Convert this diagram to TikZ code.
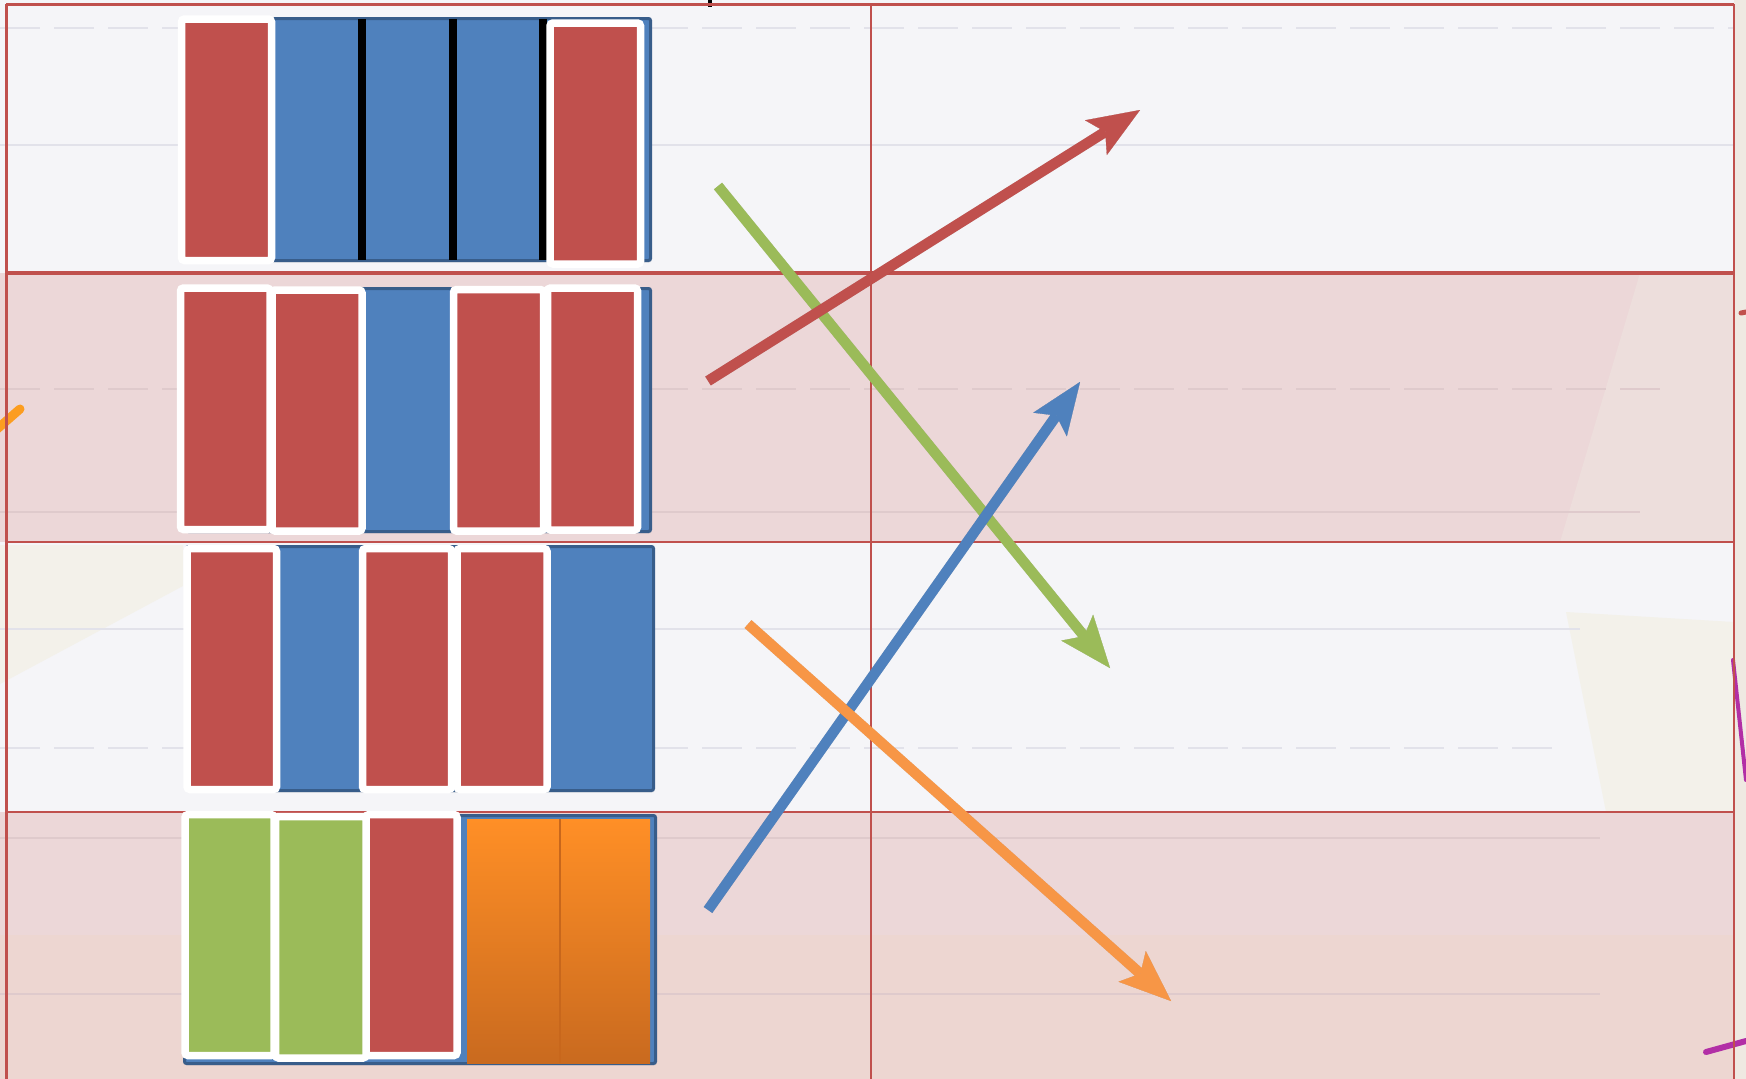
\documentclass[tikz,border=0pt]{standalone}
\usetikzlibrary{arrows.meta,shadows,calc}
\definecolor{rowwhite}{HTML}{F5F5F8}
\definecolor{rowpink}{HTML}{ECD7D8}
\definecolor{rowpeach}{HTML}{EDD6D1}
\definecolor{creambg}{HTML}{EFE9E2}
\definecolor{papercream}{HTML}{F3F1EA}
\definecolor{gridred}{HTML}{C0504D}
\definecolor{barred}{HTML}{C0504D}
\definecolor{barblue}{HTML}{4F81BD}
\definecolor{blueedge}{HTML}{385D8A}
\definecolor{bargreen}{HTML}{9BBB59}
\definecolor{orangetop}{HTML}{FF8F26}
\definecolor{orangebot}{HTML}{C96A1F}
\definecolor{orangediv}{HTML}{C8671C}
\definecolor{arrred}{HTML}{C0504D}
\definecolor{arrgreen}{HTML}{9BBB59}
\definecolor{arrblue}{HTML}{4F81BD}
\definecolor{arrorange}{HTML}{F79646}
\definecolor{noteline}{HTML}{E2E2EA}
\definecolor{notelinepink}{HTML}{DFCACC}
\definecolor{marker}{HTML}{B22FA6}
\begin{document}
\begin{tikzpicture}[x=1pt,y=-1pt,
  framebar/.style={draw=white, line width=7.5pt, rounded corners=3pt, inner sep=0pt,
    drop shadow={opacity=0.18, shadow xshift=1pt, shadow yshift=-2pt}},
  redbar/.style={framebar, fill=barred},
  greenbar/.style={framebar, fill=bargreen},
  bluebox/.style={draw=blueedge, line width=3pt, fill=barblue, rounded corners=2pt, inner sep=0pt,
    drop shadow={opacity=0.15, shadow xshift=1pt, shadow yshift=-2pt}},
  orangebar/.style={top color=orangetop, bottom color=orangebot, draw=none, inner sep=0pt},
  gridline/.style={draw=gridred},
  arrowline/.style={line width=10.5pt, -{Stealth[length=52pt,width=41pt,inset=11pt,line width=0.1pt]}},
  arrowshadow/.style={arrowline, black, opacity=0.15, shift={(2,3)}},
  faint/.style={draw=noteline, line width=1.2pt},
  faintpink/.style={draw=notelinepink, line width=1.2pt},
]
\useasboundingbox (0,0) rectangle (1746,1079);
% background
\fill[creambg] (0,0) rectangle (1746,1079);
\fill[rowwhite] (0,0) rectangle (1734,273);
\fill[rowpink] (0,273) rectangle (1734,542);
\fill[rowwhite] (0,542) rectangle (1734,812);
\fill[rowpink] (0,812) rectangle (1734,1079);
\fill[rowpeach] (0,935) rectangle (1734,1079);
\fill[papercream] (0,545) -- (183,545) -- (183,586) -- (0,684) -- cycle;
\fill[papercream] (1566,612) -- (1734,622) -- (1734,812) -- (1606,812) -- cycle;
\fill[rowpink!60!creambg] (1640,273) -- (1734,273) -- (1734,542) -- (1560,542) -- cycle;
% faint notebook lines
\draw[faint, dash pattern=on 40pt off 14pt] (0,28) -- (1734,28);
\draw[faint] (0,145) -- (1734,145);
\draw[faintpink, dash pattern=on 40pt off 14pt] (0,389) -- (1670,389);
\draw[faintpink] (0,512) -- (1640,512);
\draw[faint] (0,629) -- (1580,629);
\draw[faint, dash pattern=on 40pt off 14pt] (0,748) -- (1560,748);
\draw[faintpink] (0,838) -- (1600,838);
\draw[faintpink] (0,994) -- (1600,994);
% stray marks
\draw[orange!85!yellow, line width=9pt, line cap=round, opacity=0.85] (-4,430) -- (20,409);
\draw[marker, line width=4pt, line cap=round] (1733,660) -- (1746,780);
\draw[marker, line width=6pt, line cap=round] (1706,1052) -- (1746,1041);
\draw[gridred, line width=5pt, line cap=round] (1741,313) -- (1746,312);
\fill[black] (708,0) rectangle (712,7);
% grid
\draw[gridline, line width=3pt] (6,4) -- (1734,4);
\draw[gridline, line width=3pt] (6,4) -- (6,1079);
\draw[gridline, line width=2pt] (1734,4) -- (1734,1079);
\draw[gridline, line width=4pt] (6,273) -- (1734,273);
\draw[gridline, line width=2pt] (6,542) -- (1734,542);
\draw[gridline, line width=2pt] (6,812) -- (1734,812);
\draw[gridline, line width=2pt] (871,4) -- (871,1079);
% row 1
\node[bluebox, minimum width=464pt, minimum height=242pt] (b1) at (418.5,139.5) {};
\fill[black] (358,19) rectangle (366,260);
\fill[black] (449,19) rectangle (457,260);
\fill[black] (539,19) rectangle (547,260);
\node[redbar, minimum width=90pt, minimum height=241.5pt] (r1a) at (226.5,139.75) {};
\node[redbar, minimum width=90.5pt, minimum height=241pt] (r1b) at (595.25,143.5) {};
% row 2
\node[bluebox, minimum width=464pt, minimum height=243pt] (b2) at (418.5,410) {};
\node[redbar, minimum width=89.5pt, minimum height=241.5pt] (r2a) at (225.25,408.75) {};
\node[redbar, minimum width=90pt, minimum height=241pt] (r2b) at (317,410.5) {};
\node[redbar, minimum width=90pt, minimum height=241.5pt] (r2c) at (498.5,410.25) {};
\node[redbar, minimum width=90pt, minimum height=242pt] (r2d) at (592.5,409) {};
% row 3
\node[bluebox, minimum width=467pt, minimum height=244pt] (b3) at (420,668.5) {};
\node[redbar, minimum width=89.5pt, minimum height=241pt] (r3a) at (231.75,669) {};
\node[redbar, minimum width=89pt, minimum height=241pt] (r3b) at (407,669) {};
\node[redbar, minimum width=90pt, minimum height=241pt] (r3c) at (502,669) {};
% row 4
\node[bluebox, minimum width=471pt, minimum height=248pt] (b4) at (420,939.5) {};
\node[orangebar, minimum width=183pt, minimum height=244pt] (o4) at (558.5,941) {};
\draw[orangediv, line width=1.5pt] ($(o4.north)+(1.5,0)$) -- ($(o4.south)+(1.5,0)$);
\node[greenbar, minimum width=89pt, minimum height=241pt] (g4a) at (229.5,935) {};
\node[redbar, minimum width=91pt, minimum height=241pt] (r4) at (411.5,935) {};
\node[greenbar, minimum width=90.5pt, minimum height=241.5pt] (g4b) at (320.75,937.25) {};
% arrows
\coordinate (gs) at (718,186);  \coordinate (gt) at (1110,668);
\coordinate (rs) at (708,381);  \coordinate (rt) at (1140,110);
\coordinate (bs) at (708,910);  \coordinate (bt) at (1080,382);
\coordinate (os) at (748,624);  \coordinate (ot) at (1171,1001);
\draw[arrowshadow] (gs) -- (gt);
\draw[arrowline, arrgreen] (gs) -- (gt);
\draw[arrowshadow] (rs) -- (rt);
\draw[arrowline, arrred] (rs) -- (rt);
\draw[arrowshadow] (bs) -- (bt);
\draw[arrowline, arrblue] (bs) -- (bt);
\draw[arrowshadow] (os) -- (ot);
\draw[arrowline, arrorange] (os) -- (ot);
\end{tikzpicture}
\end{document}
